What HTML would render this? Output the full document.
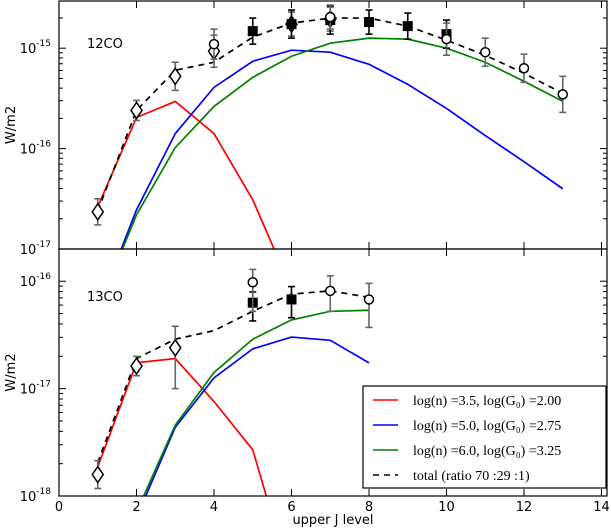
<!DOCTYPE html>
<html><head><meta charset="utf-8"><style>
html,body{margin:0;padding:0;background:#fff;width:611px;height:530px;overflow:hidden}
svg{display:block;overflow:hidden;font-family:"DejaVu Sans","Liberation Sans",sans-serif}
</style></head><body>
<svg id="chart" width="611" height="530" viewBox="0 0 611 530" xmlns="http://www.w3.org/2000/svg"></svg>
<script>
// ---- data (log10 W/m2) ----
const jLevels = [1,2,3,4,5,6,7,8,9,10,11,12,13];
const top_red   = [-16.58,-15.69,-15.53,-15.85,-16.51,-17.4];
const top_blue  = [-17.6,-16.61,-15.85,-15.39,-15.13,-15.02,-15.04,-15.16,-15.36,-15.6,-15.87,-16.13,-16.4];
const top_green = [-17.6,-16.66,-15.99,-15.58,-15.29,-15.08,-14.95,-14.90,-14.91,-15.0,-15.14,-15.33,-15.53];
const top_total = [-16.62,-15.62,-15.22,-15.14,-14.89,-14.75,-14.70,-14.70,-14.78,-14.92,-15.07,-15.25,-15.45];
const top_diamJ = [1,2,3,4,6,7];
const top_diamV = [-16.63,-15.62,-15.28,-15.03,-14.76,-14.71];
const top_diamE = [0.13,0.1,0.14,0.16,0.12,0.12];
const top_circJ = [4,7,10,11,12,13];
const top_circV = [-14.96,-14.69,-14.91,-15.04,-15.2,-15.46];
const top_circE = [0.15,0.12,0.16,0.14,0.14,0.18];
const top_sqJ = [5,6,7,8,9,10];
const top_sqV = [-14.83,-14.76,-14.72,-14.74,-14.78,-14.86];
const top_sqE = [0.13,0.14,0.14,0.12,0.13,0.14];

const bot_J = [1,2,3,4,5,6,7,8];
const bot_red   = [-17.73,-16.76,-16.72,-17.12,-17.57,-18.8];
const bot_blue  = [-19.0,-18.2,-17.36,-16.9,-16.63,-16.52,-16.55,-16.76];
const bot_green = [-19.0,-18.15,-17.34,-16.85,-16.54,-16.36,-16.28,-16.27];
const bot_total = [-17.69,-16.72,-16.54,-16.46,-16.28,-16.12,-16.09,-16.15];
const bot_diamJ = [1,2,3];
const bot_diamV = [-17.80,-16.79,-16.62];
const bot_diamLo = [-17.93,-16.88,-17.0];
const bot_diamHi = [-17.67,-16.70,-16.42];
const bot_circJ = [5,7,8];
const bot_circV = [-16.01,-16.09,-16.17];
const bot_circLo = [-16.28,-16.28,-16.43];
const bot_circHi = [-15.89,-15.95,-16.02];
const bot_sqJ = [5,6];
const bot_sqV = [-16.2,-16.17];
const bot_sqLo = [-16.37,-16.34];
const bot_sqHi = [-16.1,-16.05];

const xTicks = [0,2,4,6,8,10,12,14];
const legendLabels = ["log(n) =3.5, log(G\u2080) =2.00","log(n) =5.0, log(G\u2080) =2.75","log(n) =6.0, log(G\u2080) =3.25","total (ratio 70 :29 :1)"];

// ---- layout ----
const svg = document.getElementById('chart');
const NS = 'http://www.w3.org/2000/svg';
const L = 59, R = 607;
const xs = j => 59 + j*38.75;
const panels = [
  {name:'top', y0:1, y1:249, lmax:-14.53, lmin:-17, decades:[-15,-16,-17], label:'12CO'},
  {name:'bottom', y0:249, y1:496, lmax:-15.70, lmin:-18, decades:[-16,-17,-18], label:'13CO'}
];
function mk(tag, attrs, parent){
  const e = document.createElementNS(NS, tag);
  for (const k in attrs) e.setAttribute(k, attrs[k]);
  (parent||svg).appendChild(e);
  return e;
}
function ysFor(p){ return v => p.y1 - (v - p.lmin)/(p.lmax - p.lmin)*(p.y1 - p.y0); }

panels.forEach(p => {
  const ys = ysFor(p);
  const g = mk('g', {});
  
  
  const clipId = 'clip-' + p.name;
  const cp = mk('clipPath', {id: clipId}, g);
  mk('rect', {x:L, y:p.y0, width:R-L, height:p.y1-p.y0}, cp);
  const tg = mk('g', {stroke:'#000','stroke-width':1}, g);
  
  
  for (let d = Math.floor(p.lmin); d <= Math.ceil(p.lmax); d++) {
    for (let m = 1; m <= 9; m++) {
      const v = d + Math.log10(m);
      if (v < p.lmin - 1e-6 || v > p.lmax) continue;
      const y = ys(v), len = m === 1 ? 7 : 4;
      mk('line', {x1:L, x2:L+len, y1:y, y2:y}, tg);
      mk('line', {x1:R, x2:R-len, y1:y, y2:y}, tg);
    }
  }
  xTicks.forEach(t => {
    const x = xs(t);
    mk('line', {x1:x, x2:x, y1:p.y1, y2:p.y1-7}, tg);
    mk('line', {x1:x, x2:x, y1:p.y0, y2:p.y0+7}, tg);
  });
  p.decades.forEach(d => {
    const t = mk('text', {x:L-8, y:ys(d)+5, 'text-anchor':'end', 'font-size':13}, g);
    
    
    t.textContent = '10';
    const s = mk('tspan', {dy:-7, 'font-size':9}, t);
    s.textContent = String(d);
  });
  const yl = mk('text', {x:0, y:0, 'font-size':13, 'text-anchor':'middle', transform:`translate(15,${(p.y0+p.y1)/2}) rotate(-90)`}, g);
  
  
  yl.textContent = 'W/m2';
  const pl = mk('text', {x:87, y:p.name==='top'?48:301, 'font-size':13}, g);
  
  
  pl.textContent = p.label;

  const pg = mk('g', {'clip-path':`url(#${clipId})`}, g);
  const series = p.name === 'top'
    ? [[top_red,'#ff0000'],[top_blue,'#0000ff'],[top_green,'#008000'],[top_total,'#000']]
    : [[bot_red,'#ff0000'],[bot_blue,'#0000ff'],[bot_green,'#008000'],[bot_total,'#000']];
  series.forEach((s, i) => {
    const pts = s[0].map((v, k) => xs(k+1) + ',' + ys(v)).join(' ');
    const pol = mk('polyline', {points:pts, fill:'none', stroke:s[1], 'stroke-width':1.7, 'stroke-dasharray': i===3 ? '6,5' : 'none'}, pg);
    
    
  });
  function errbar(j, lo, hi, col){
    const x = xs(j);
    mk('line', {x1:x, x2:x, y1:ys(lo), y2:ys(hi), stroke:col, 'stroke-width':1.6}, pg);
    mk('line', {x1:x-3.5, x2:x+3.5, y1:ys(lo), y2:ys(lo), stroke:col, 'stroke-width':1.6}, pg);
    mk('line', {x1:x-3.5, x2:x+3.5, y1:ys(hi), y2:ys(hi), stroke:col, 'stroke-width':1.6}, pg);
  }
  let D, C, S;
  if (p.name === 'top') {
    D = top_diamJ.map((j,k)=>[j, top_diamV[k], top_diamV[k]-top_diamE[k], top_diamV[k]+top_diamE[k]]);
    C = top_circJ.map((j,k)=>[j, top_circV[k], top_circV[k]-top_circE[k], top_circV[k]+top_circE[k]]);
    S = top_sqJ.map((j,k)=>[j, top_sqV[k], top_sqV[k]-top_sqE[k], top_sqV[k]+top_sqE[k]]);
  } else {
    D = bot_diamJ.map((j,k)=>[j, bot_diamV[k], bot_diamLo[k], bot_diamHi[k]]);
    C = bot_circJ.map((j,k)=>[j, bot_circV[k], bot_circLo[k], bot_circHi[k]]);
    S = bot_sqJ.map((j,k)=>[j, bot_sqV[k], bot_sqLo[k], bot_sqHi[k]]);
  }
  D.forEach(d => {
    errbar(d[0], d[2], d[3], '#666');
    const x = xs(d[0]), y = ys(d[1]);
    const m = mk('polygon', {points:`${x},${y-8} ${x+5.5},${y} ${x},${y+8} ${x-5.5},${y}`, fill:'#fff', stroke:'#000', 'stroke-width':1.5}, pg);
    
    
  });
  S.forEach(d => {
    errbar(d[0], d[2], d[3], '#000');
    const x = xs(d[0]), y = ys(d[1]);
    const m = mk('rect', {x:x-5, y:y-5, width:10, height:10, fill:'#000'}, pg);
    
    
  });
  C.forEach(d => {
    errbar(d[0], d[2], d[3], '#666');
    const x = xs(d[0]), y = ys(d[1]);
    const m = mk('circle', {cx:x, cy:y, r:4.5, fill:'#fff', stroke:'#000', 'stroke-width':1.5}, pg);
    
    
  });
  const fr = mk('rect', {x:L, y:p.y0, width:R-L, height:p.y1-p.y0, fill:'none', stroke:'#000', 'stroke-width':1.2}, g);
  
  
});

xTicks.forEach(t => {
  const tx = mk('text', {x:xs(t), y:511, 'text-anchor':'middle', 'font-size':13});
  
  
  tx.textContent = String(t);
});
const xl = mk('text', {x:333, y:524, 'text-anchor':'middle', 'font-size':13});


xl.textContent = 'upper J level';

const lg = mk('g', {});


mk('rect', {x:363, y:386, width:243, height:102, fill:'#fff', stroke:'#000', 'stroke-width':1.2}, lg);
const lcols = ['#ff0000','#0000ff','#008000','#000'];
legendLabels.forEach((lab, i) => {
  const y = 400 + i*25;
  const ln = mk('line', {x1:373, x2:398, y1:y, y2:y, stroke:lcols[i], 'stroke-width':1.6, 'stroke-dasharray': i===3 ? '6,5' : 'none'}, lg);
  
  
  const t = mk('text', {x:413, y:y+5, 'font-size':14, 'font-family':'"Liberation Serif","DejaVu Serif",serif'}, lg);
  
  
  t.textContent = lab;
});
</script>
</body></html>
